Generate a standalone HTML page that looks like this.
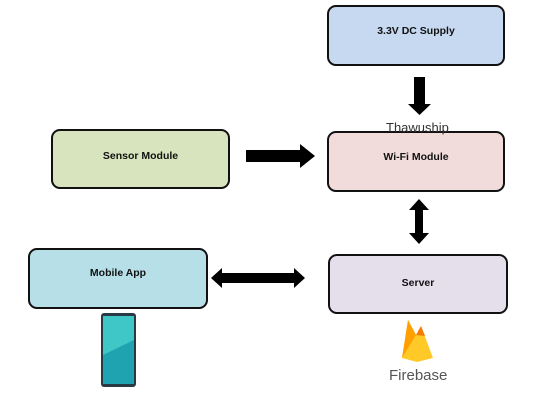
<!DOCTYPE html>
<html><head><style>
body{margin:0;width:535px;height:415px;background:#fff;position:relative;overflow:hidden;font-family:"Liberation Sans",sans-serif}
.b{position:absolute;border:2px solid #111;border-radius:9px;box-sizing:border-box;font-weight:bold;font-size:10.5px;text-align:center;color:#111}
.t{position:absolute;}
</style></head><body>
<div class="b" style="left:327px;top:5px;width:178px;height:61px;background:#c7d9f0;padding-top:18px">3.3V DC Supply</div>
<div class="b" style="left:327px;top:131px;width:178px;height:61px;background:#f2dcdb;padding-top:18px">Wi-Fi Module</div>
<div class="b" style="left:51px;top:129px;width:179px;height:60px;background:#d7e4bd;padding-top:19px">Sensor Module</div>
<div class="b" style="left:28px;top:248px;width:180px;height:61px;background:#b7dfe8;padding-top:17px">Mobile App</div>
<div class="b" style="left:328px;top:254px;width:180px;height:60px;background:#e5dfec;padding-top:21px">Server</div>
<div class="t" style="left:386px;top:120px;font-size:13px;color:#333;">Thawuship</div>
<svg width="535" height="415" style="position:absolute;left:0;top:0">
<polygon points="414,77 425,77 425,104 431,104 419.5,115 408,104 414,104" fill="#000"/>
<polygon points="246,150 300,150 300,144 315,156 300,168 300,162 246,162" fill="#000"/>
<polygon points="419,199 429,210 423,210 423,233 429,233 419,244 409,233 415,233 415,210 409,210" fill="#000"/>
<polygon points="211,278 222,268 222,273 294,273 294,268 305,278 294,288 294,283 222,283 222,288" fill="#000"/>
<rect x="101" y="313" width="35" height="74" rx="3" fill="#2a3a44"/>
<rect x="103" y="316" width="31" height="68" fill="#3fc6c6"/>
<polygon points="103,355 134,340 134,384 103,384" fill="#20a3b0"/>
<polygon points="402,358 408,320 416,335 421,326 433,358 417,362" fill="#ffca28"/>
<polygon points="402,358 408,320 416,335" fill="#ffa000"/>
<polygon points="416,335 421,326 425,336" fill="#f57c00"/>
<text x="389" y="380" font-size="15" fill="#555" font-family="Liberation Sans">Firebase</text>
</svg>
</body></html>
